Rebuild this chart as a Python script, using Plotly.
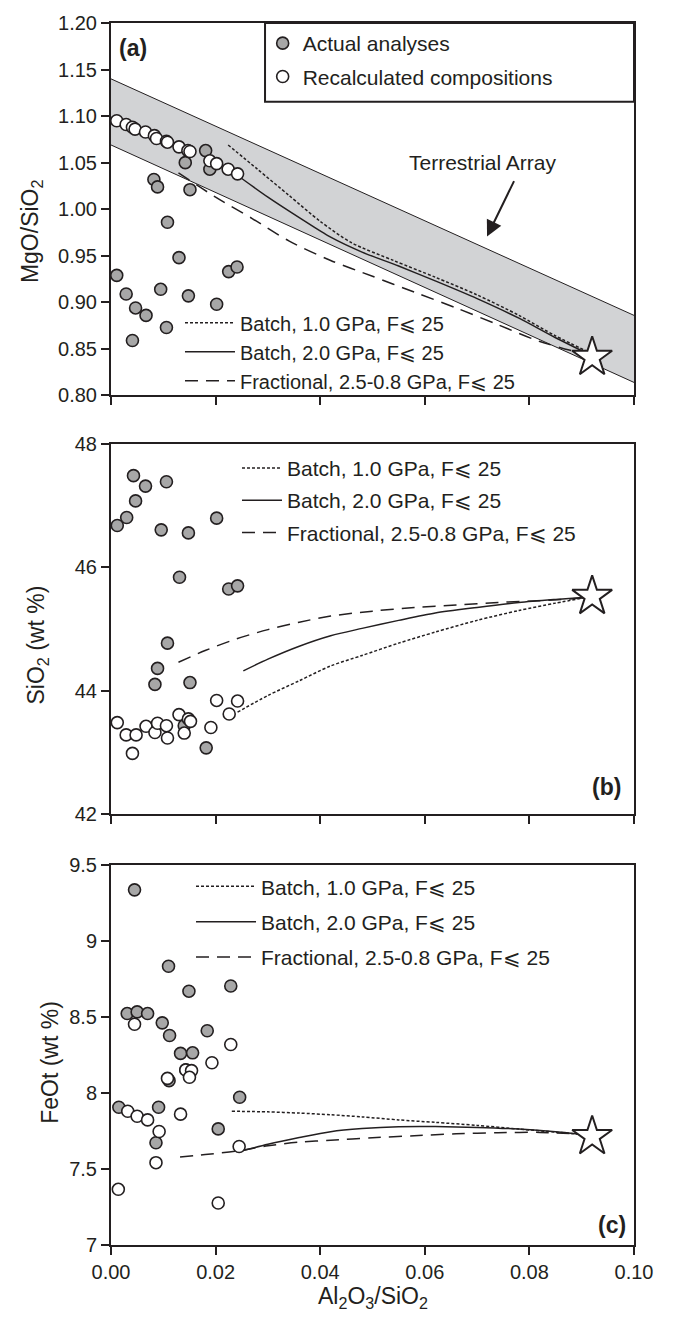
import plotly.graph_objects as go

FONT = "Liberation Sans, Arial, sans-serif"
INK = "#231f20"
GRAY_FILL = "#a7a7a7"
BAND_FILL = "#d2d3d5"

# ---------------- data ----------------
# Panel (a): MgO/SiO2 vs Al2O3/SiO2
a_act_x = [0.0181, 0.0142, 0.0189, 0.0082, 0.0089, 0.0151, 0.0108, 0.0130, 0.0225, 0.0241,
           0.0011, 0.0029, 0.0095, 0.0148, 0.0202, 0.0047, 0.0067, 0.0106, 0.0041]
a_act_y = [1.063, 1.050, 1.043, 1.032, 1.024, 1.021, 0.986, 0.948, 0.933, 0.938,
           0.929, 0.909, 0.914, 0.907, 0.898, 0.894, 0.886, 0.873, 0.859]
a_rec_x = [0.0011, 0.0029, 0.0041, 0.0046, 0.0066, 0.0083, 0.0087, 0.0106, 0.0108, 0.0130,
           0.0147, 0.0151, 0.0189, 0.0202, 0.0224, 0.0242]
a_rec_y = [1.095, 1.091, 1.088, 1.086, 1.083, 1.079, 1.076, 1.073, 1.072, 1.067,
           1.063, 1.062, 1.052, 1.049, 1.043, 1.038]

band_x = [0.0, 0.10]
band_upper = [1.140, 0.886]
band_lower = [1.069, 0.814]

a_b1_x = [0.0224, 0.028, 0.034, 0.040, 0.046, 0.054, 0.062, 0.070, 0.078, 0.085, 0.0915]
a_b1_y = [1.069, 1.043, 1.015, 0.987, 0.964, 0.945, 0.927, 0.908, 0.886, 0.864, 0.846]
a_b2_x = [0.025, 0.030, 0.036, 0.042, 0.048, 0.055, 0.062, 0.070, 0.078, 0.085, 0.0915]
a_b2_y = [1.033, 1.013, 0.991, 0.970, 0.954, 0.939, 0.923, 0.904, 0.883, 0.862, 0.844]
a_fr_x = [0.0129, 0.020, 0.027, 0.034, 0.042, 0.050, 0.058, 0.066, 0.074, 0.082, 0.0915]
a_fr_y = [1.039, 1.013, 0.990, 0.966, 0.945, 0.928, 0.911, 0.894, 0.876, 0.858, 0.843]

# Panel (b): SiO2 (wt %)
b_act_x = [0.0043, 0.0066, 0.0106, 0.0047, 0.0030, 0.0012, 0.0096, 0.0148, 0.0202, 0.0131,
           0.0225, 0.0242, 0.0108, 0.0089, 0.0084, 0.0151, 0.0182, 0.0140]
b_act_y = [47.49, 47.32, 47.39, 47.08, 46.81, 46.68, 46.61, 46.56, 46.80, 45.84,
           45.65, 45.70, 44.77, 44.36, 44.10, 44.13, 43.07, 43.43]
b_rec_x = [0.0012, 0.0029, 0.0048, 0.0041, 0.0067, 0.0084, 0.0089, 0.0106, 0.0108, 0.0130,
           0.0140, 0.0148, 0.0152, 0.0191, 0.0202, 0.0226, 0.0242]
b_rec_y = [43.48, 43.28, 43.28, 42.98, 43.42, 43.32, 43.47, 43.43, 43.23, 43.61,
           43.31, 43.54, 43.50, 43.40, 43.84, 43.62, 43.83]

b_b1_x = [0.0242, 0.030, 0.036, 0.042, 0.048, 0.055, 0.062, 0.070, 0.078, 0.085, 0.0915]
b_b1_y = [43.65, 43.92, 44.16, 44.40, 44.57, 44.77, 44.95, 45.14, 45.30, 45.42, 45.52]
b_b2_x = [0.0253, 0.030, 0.036, 0.042, 0.048, 0.055, 0.062, 0.070, 0.078, 0.085, 0.0915]
b_b2_y = [44.32, 44.51, 44.72, 44.89, 45.01, 45.14, 45.26, 45.35, 45.43, 45.48, 45.52]
b_fr_x = [0.0129, 0.018, 0.024, 0.030, 0.036, 0.042, 0.050, 0.058, 0.066, 0.074, 0.082, 0.0915]
b_fr_y = [44.46, 44.65, 44.84, 44.99, 45.11, 45.21, 45.29, 45.35, 45.39, 45.43, 45.46, 45.51]

# Panel (c): FeOt (wt %)
c_act_x = [0.0045, 0.0110, 0.0149, 0.0229, 0.0031, 0.0050, 0.0070, 0.0098, 0.0112, 0.0184,
           0.0133, 0.0156, 0.0246, 0.0015, 0.0091, 0.0086, 0.0205, 0.0143, 0.0111]
c_act_y = [9.334, 8.832, 8.668, 8.702, 8.521, 8.532, 8.521, 8.460, 8.377, 8.408,
           8.259, 8.263, 7.971, 7.905, 7.905, 7.672, 7.763, 8.152, 8.080]
c_rec_x = [0.0045, 0.0229, 0.0193, 0.0143, 0.0154, 0.0150, 0.0108, 0.0032, 0.0050, 0.0070,
           0.0133, 0.0092, 0.0086, 0.0014, 0.0205, 0.0245]
c_rec_y = [8.451, 8.318, 8.198, 8.150, 8.146, 8.102, 8.095, 7.879, 7.846, 7.822,
           7.860, 7.746, 7.541, 7.366, 7.276, 7.647]

c_b1_x = [0.0231, 0.030, 0.036, 0.042, 0.048, 0.055, 0.062, 0.070, 0.078, 0.085, 0.0915]
c_b1_y = [7.879, 7.875, 7.867, 7.856, 7.842, 7.822, 7.806, 7.786, 7.762, 7.742, 7.722]
c_b2_x = [0.0253, 0.030, 0.036, 0.042, 0.048, 0.055, 0.062, 0.070, 0.078, 0.085, 0.0915]
c_b2_y = [7.621, 7.662, 7.706, 7.745, 7.765, 7.777, 7.778, 7.773, 7.762, 7.745, 7.722]
c_fr_x = [0.0132, 0.018, 0.024, 0.030, 0.036, 0.042, 0.050, 0.058, 0.066, 0.074, 0.082, 0.0915]
c_fr_y = [7.578, 7.594, 7.617, 7.652, 7.676, 7.688, 7.705, 7.718, 7.731, 7.738, 7.740, 7.725]

# Source (star) composition
star_x = [0.092]
star_a = [0.841]
star_b = [45.53]
star_c = [7.713]

series_names = ["Batch, 1.0 GPa, F\u2a7d 25", "Batch, 2.0 GPa, F\u2a7d 25",
                "Fractional, 2.5-0.8 GPa, F\u2a7d 25"]
symbol_names = ["Actual analyses", "Recalculated compositions"]

# annotation positions (data units) for the Terrestrial Array label/arrow
ta_text_xy = (0.0711, 1.050)
ta_head_xy = (0.0719, 0.9707)
ta_tail_xy = (0.0772, 1.0318)

# ---------------- figure ----------------
fig = go.Figure()

LINE_STYLES = [dict(color=INK, width=1.5, dash="3px,2px", shape="spline", smoothing=0.8),
               dict(color=INK, width=1.5, shape="spline", smoothing=0.8),
               dict(color=INK, width=1.5, dash="13px,8px", shape="spline", smoothing=0.8)]

def add_panel(xa, ya, act_x, act_y, rec_x, rec_y, curves, sy, legend_name, sym_legend):
    for (cx, cy), name, st in zip(curves, series_names, LINE_STYLES):
        fig.add_trace(go.Scatter(x=cx, y=cy, mode="lines", line=st, name=name,
                                 xaxis=xa, yaxis=ya, legend=legend_name,
                                 legendgroup=legend_name + name, showlegend=True,
                                 hoverinfo="skip"))
    fig.add_trace(go.Scatter(x=act_x, y=act_y, mode="markers", name=symbol_names[0],
                             marker=dict(size=12, color=GRAY_FILL, line=dict(color=INK, width=1.6)),
                             xaxis=xa, yaxis=ya, legend="legend", legendgroup="act",
                             showlegend=sym_legend))
    fig.add_trace(go.Scatter(x=rec_x, y=rec_y, mode="markers", name=symbol_names[1],
                             marker=dict(size=12, color="white", line=dict(color=INK, width=1.6)),
                             xaxis=xa, yaxis=ya, legend="legend", legendgroup="rec",
                             showlegend=sym_legend))
    fig.add_trace(go.Scatter(x=star_x, y=sy, mode="markers", showlegend=False,
                             marker=dict(symbol="star", size=30, color="white",
                                         line=dict(color=INK, width=2)),
                             xaxis=xa, yaxis=ya))

# band for panel (a)
fig.add_trace(go.Scatter(x=band_x, y=band_lower, mode="lines", line=dict(color=INK, width=1),
                         showlegend=False, xaxis="x", yaxis="y", hoverinfo="skip"))
fig.add_trace(go.Scatter(x=band_x, y=band_upper, mode="lines", line=dict(color=INK, width=1),
                         fill="tonexty", fillcolor=BAND_FILL,
                         showlegend=False, xaxis="x", yaxis="y", hoverinfo="skip"))

add_panel("x", "y", a_act_x, a_act_y, a_rec_x, a_rec_y,
          [(a_b1_x, a_b1_y), (a_b2_x, a_b2_y), (a_fr_x, a_fr_y)], star_a, "legend2", True)
add_panel("x2", "y2", b_act_x, b_act_y, b_rec_x, b_rec_y,
          [(b_b1_x, b_b1_y), (b_b2_x, b_b2_y), (b_fr_x, b_fr_y)], star_b, "legend3", False)
add_panel("x3", "y3", c_act_x, c_act_y, c_rec_x, c_rec_y,
          [(c_b1_x, c_b1_y), (c_b2_x, c_b2_y), (c_fr_x, c_fr_y)], star_c, "legend4", False)

common_axis = dict(showline=True, linewidth=2, linecolor=INK, mirror=True, ticks="outside",
                   ticklen=8, tickwidth=1.5, tickcolor=INK, showgrid=False, zeroline=False,
                   tickfont=dict(family=FONT, size=20, color=INK))
xcommon = dict(common_axis, range=[0, 0.10], dtick=0.02, tick0=0, tickformat=".2f")

leg_font = dict(family=FONT, size=21, color=INK)
fig.update_layout(
    width=675, height=1318,
    margin=dict(l=111, r=41, t=18, b=73),
    paper_bgcolor="white", plot_bgcolor="white",
    font=dict(family=FONT, color=INK),
    xaxis=dict(xcommon, anchor="y", domain=[0, 1], showticklabels=False),
    yaxis=dict(common_axis, anchor="x", domain=[0.6952, 1.0], range=[0.80, 1.20],
               dtick=0.05, tick0=0.8, tickformat=".2f"),
    xaxis2=dict(xcommon, anchor="y2", domain=[0, 1], showticklabels=False),
    yaxis2=dict(common_axis, anchor="x2", domain=[0.3529, 0.6553], range=[42, 48], dtick=2),
    xaxis3=dict(xcommon, anchor="y3", domain=[0, 1], showticklabels=True),
    yaxis3=dict(common_axis, anchor="x3", domain=[0, 0.3113], range=[7, 9.5], dtick=0.5, tick0=7),
    legend=dict(x=0.29, y=1.0, xanchor="left", yanchor="top", bgcolor="rgba(0,0,0,0)",
                font=leg_font, tracegroupgap=3),
    legend2=dict(x=0.1319, y=0.7706, xanchor="left", yanchor="top", bgcolor="rgba(0,0,0,0)",
                 font=dict(family=FONT, size=20, color=INK), tracegroupgap=0, itemwidth=50),
    legend3=dict(x=0.2409, y=0.6524, xanchor="left", yanchor="top", bgcolor="rgba(0,0,0,0)",
                 font=leg_font, tracegroupgap=2, itemwidth=40),
    legend4=dict(x=0.153, y=0.310, xanchor="left", yanchor="top", bgcolor="rgba(0,0,0,0)",
                 font=leg_font, tracegroupgap=5, itemwidth=60),
    showlegend=True,
)

# legend frame for the symbol legend in panel (a)
fig.add_shape(type="rect", xref="paper", yref="paper", x0=0.2945, x1=1.0, y0=0.9356, y1=1.0,
              line=dict(color=INK, width=2), fillcolor="rgba(0,0,0,0)", layer="above")

ann_font = dict(family=FONT, size=23, color=INK)
annotations = [
    dict(text="MgO/SiO<sub>2</sub>", xref="paper", yref="paper", x=-0.153, y=0.8297,
         textangle=-90, showarrow=False, font=ann_font, xanchor="center", yanchor="middle"),
    dict(text="SiO<sub>2</sub> (wt %)", xref="paper", yref="paper", x=-0.1396, y=0.4914,
         textangle=-90, showarrow=False, font=ann_font, xanchor="center", yanchor="middle"),
    dict(text="FeOt (wt %)", xref="paper", yref="paper", x=-0.1166, y=0.1491,
         textangle=-90, showarrow=False, font=ann_font, xanchor="center", yanchor="middle"),
    dict(text="Al<sub>2</sub>O<sub>3</sub>/SiO<sub>2</sub>", xref="paper", yref="paper",
         x=0.5, y=-0.0432, showarrow=False, font=ann_font, xanchor="center", yanchor="middle"),
    dict(text="<b>(a)</b>", xref="paper", yref="paper", x=0.0115, y=0.9796, showarrow=False,
         font=dict(family=FONT, size=23, color=INK), xanchor="left", yanchor="middle"),
    dict(text="<b>(b)</b>", xref="paper", yref="paper", x=0.979, y=0.3749, showarrow=False,
         font=dict(family=FONT, size=23, color=INK), xanchor="right", yanchor="middle"),
    dict(text="<b>(c)</b>", xref="paper", yref="paper", x=0.9885, y=0.0163, showarrow=False,
         font=dict(family=FONT, size=23, color=INK), xanchor="right", yanchor="middle"),
    dict(text="Terrestrial Array", xref="x", yref="y", x=ta_text_xy[0], y=ta_text_xy[1],
         showarrow=False, font=dict(family=FONT, size=21, color=INK),
         xanchor="center", yanchor="middle"),
    dict(text="", xref="x", yref="y", x=ta_head_xy[0], y=ta_head_xy[1],
         axref="x", ayref="y", ax=ta_tail_xy[0], ay=ta_tail_xy[1],
         showarrow=True, arrowhead=2, arrowsize=1.6, arrowwidth=2, arrowcolor=INK),
]
fig.update_layout(annotations=annotations)

fig.write_html("out.html")
